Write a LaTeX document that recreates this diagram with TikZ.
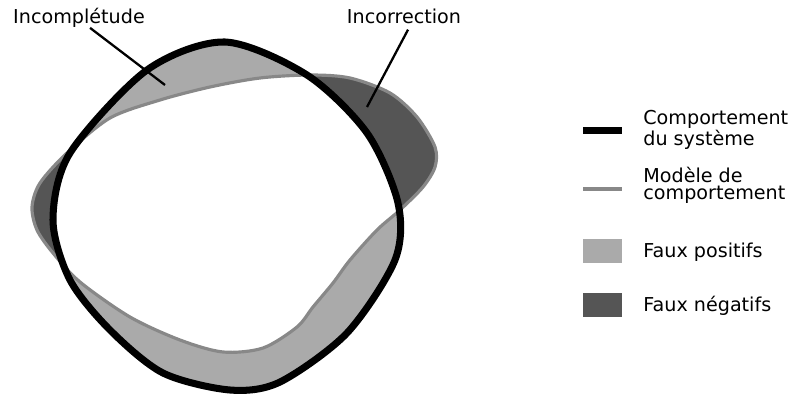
\documentclass[tikz,border=0pt]{standalone}
\usepackage{fontspec}
\setmainfont{DejaVu Sans}
\usepackage{tikz}
\usetikzlibrary{positioning}
\definecolor{fposgray}{RGB}{170,170,170}
\definecolor{fneggray}{RGB}{85,85,85}
\definecolor{modelgray}{RGB}{136,136,136}

\newcommand{\sysshape}{plot[smooth cycle] coordinates {(225,42) (307,75) (367,133) (398,203) (395,260) (347,333) (280,382) (230,390) (163,373) (110,330) (70,280) (53,220) (70,153) (147,70)}}
\newcommand{\modelshape}{plot[smooth cycle] coordinates {(310,75) (350,78) (390,93) (417,117) (435,147) (435,167) (423,187) (400,210) (377,230) (350,260) (333,283) (313,307) (297,327) (263,348) (223,352) (180,340) (130,317) (80,282) (53,253) (37,230) (32,207) (40,183) (67,153) (110,118) (160,100) (210,87) (260,78)}}

\begin{document}
\begin{tikzpicture}[
  x=0.02cm, y=-0.02cm,
  txt/.style={font=\fontsize{10.9}{9.6}\selectfont, inner sep=0pt},
  lbl/.style={txt, anchor=base},
  legtxt/.style={txt, anchor=west, align=left},
  sysline/.style={line width=4pt, black},
  modline/.style={line width=1.8pt, modelgray},
  leader/.style={line width=1.3pt, black},
  swatch/.style={minimum width=22.1pt, minimum height=13.6pt, inner sep=0pt},
]
  \useasboundingbox (0,0) rectangle (790,395);
  % regions
  \fill[fneggray] \modelshape;
  \fill[fposgray] \sysshape;
  \begin{scope}
    \clip \sysshape;
    \fill[white] \modelshape;
  \end{scope}
  \draw[modline] \modelshape;
  \draw[sysline] \sysshape;
  % labels
  \node[lbl] (incomp) at (79,23.5) {Incomplétude};
  \node[lbl] (incorr) at (404,23.5) {Incorrection};
  \coordinate (incompend) at (165,85);
  \coordinate (incorrend) at (367,107);
  \draw[leader] ([xshift=6.3pt,yshift=-2.5pt]incomp.base) -- (incompend);
  \draw[leader] ([xshift=2.3pt,yshift=-3.5pt]incorr.base) -- (incorrend);
  % legend
  \draw[line width=4pt, black] (583,130.5) -- (622,130.5);
  \node[legtxt] (legsys) at (643,130) {Comportement\\du système};
  \draw[line width=1.9pt, modelgray] (583,189) -- (622,189);
  \node[legtxt] (legmod) at (643,185) {Modèle de\\comportement};
  \node[swatch, fill=fposgray] (swpos) at (602.5,251) {};
  \node[legtxt] (legpos) at (643,252) {Faux positifs};
  \node[swatch, fill=fneggray] (swneg) at (602.5,305) {};
  \node[legtxt] (legneg) at (643,306) {Faux négatifs};
\end{tikzpicture}
\end{document}
